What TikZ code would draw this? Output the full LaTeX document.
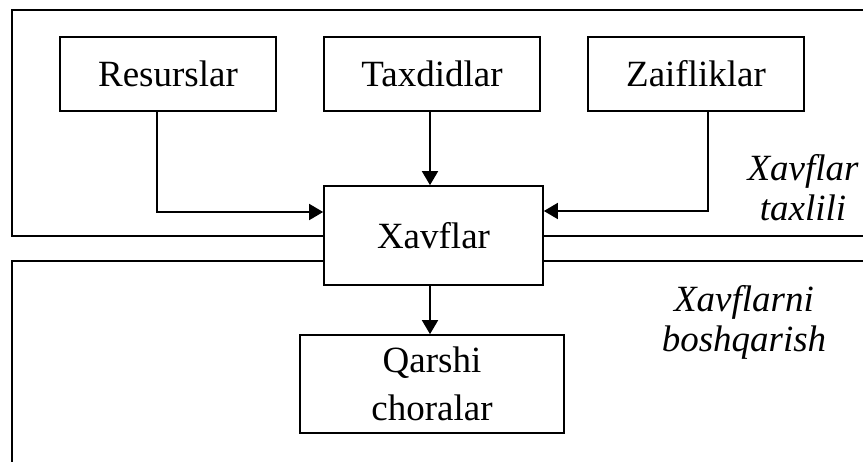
\documentclass[tikz,border=0pt]{standalone}
\usepackage{fontspec}
\setmainfont{Liberation Serif}
\usetikzlibrary{arrows.meta}
\begin{document}
\begin{tikzpicture}[x=0.5pt,y=-0.5pt,
  line width=0.85pt,
  blk/.style={draw,fill=white,inner sep=0pt,font=\fontsize{18.5}{24}\selectfont,align=center},
  lbl/.style={font=\fontsize{18.5}{20}\selectfont\itshape,align=center,inner sep=0pt},
  arr/.style={-{Triangle[length=7pt,width=8pt]}}]
\useasboundingbox (0,0) rectangle (863,461);
\clip (0,0) rectangle (863,461);
% frames
\draw (880,10) -- (12,10) -- (12,236) -- (880,236);
\draw (880,261) -- (12,261) -- (12,480);
% boxes
\node[blk,minimum width=108pt,minimum height=37pt] (res) at (168,74) {Resurslar};
\node[blk,minimum width=108pt,minimum height=37pt] (tax) at (432,74) {Taxdidlar};
\node[blk,minimum width=108pt,minimum height=37pt] (zai) at (696,74) {Zaifliklar};
\node[blk,minimum width=109.5pt,minimum height=49.5pt] (xav) at (433.5,235.5) {Xavflar};
\node[blk,minimum width=132pt,minimum height=49pt] (qar) at (432,384) {\raisebox{-1.5pt}{Qarshi}\\\raisebox{-1.5pt}{choralar}};
% labels
\node[lbl] (l1) at (803,188) {Xavflar\\taxlili};
\node[lbl] (l2) at (744,322) {Xavflarni\\boshqarish};
% arrows
\draw[arr] ([xshift=-5.5pt]res.south) |- ([yshift=11.75pt]xav.west);
\draw[arr] ([xshift=-1pt]tax.south) -- ([xshift=-1pt]tax.south |- xav.north);
\draw[arr] ([xshift=6pt]zai.south) |- ([yshift=12.25pt]xav.east);
\draw[arr] ([xshift=-1.75pt]xav.south) -- ([xshift=-1.75pt]xav.south |- qar.north);
\end{tikzpicture}
\end{document}
